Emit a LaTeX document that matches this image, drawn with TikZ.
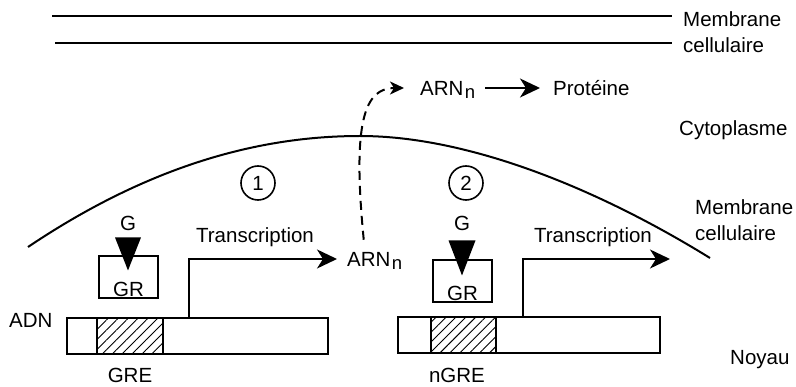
\documentclass[tikz,border=0pt]{standalone}
\usepackage{fontspec}
\setmainfont{Liberation Sans}
\usetikzlibrary{arrows.meta,patterns.meta,calc}
\tikzset{
  every node/.style={font=\fontsize{20.5}{26}\selectfont},
  lbl/.style={inner sep=0pt,anchor=west},
  mrna/.style={lbl,text depth=0pt},
  memline/.style={line width=2.4pt},
  bar/.style={draw,line width=2pt,rectangle,inner sep=0pt,minimum height=36pt},
  hatch/.style={bar,pattern={Lines[angle=45,distance=7pt,line width=0.9pt]}},
  grbox/.style={draw,line width=2pt,minimum width=59pt,minimum height=42pt,inner sep=0pt},
  ligand/.style={fill=black},
  numcirc/.style={draw,circle,line width=1.6pt,minimum size=34pt,inner sep=0pt},
  txarrow/.style={-{Stealth[length=20pt,width=19pt,inset=6pt]},line width=2pt},
  export/.style={-{Stealth[length=14pt,width=13pt,inset=4pt]},line width=2pt,dash pattern=on 9pt off 6pt},
}
\newcommand{\arnn}{ARN\kern1.5pt\raisebox{-0.3ex}{\fontsize{18.5}{20}\selectfont n}}
\begin{document}
\begin{tikzpicture}[x=1pt,y=-1pt]
  \useasboundingbox (0,0) rectangle (796,387);

  % membrane cellulaire (haut)
  \draw[memline] (52,16) -- (672,16);
  \draw[memline] (55,43) -- (672,43);
  \node[lbl,align=left] (memtop) at (683,32) {Membrane\\cellulaire};

  % cytoplasme
  \node[mrna] (arn2) at (420,88) {\arnn};
  \node[lbl] (prot) at (553,88) {Prot\'eine};
  \draw[txarrow,shorten <=10pt,shorten >=13pt] (arn2.east) -- (prot.west);
  \node[lbl] (cyto) at (679,130) {Cytoplasme};

  % membrane nucleaire
  \draw[line width=2pt] (28,247) .. controls (150,165) and (260,136) .. (360,136)
    .. controls (470,136) and (600,190) .. (710,258);
  \node[lbl,align=left] (memnuc) at (695,220) {Membrane\\cellulaire};
  \node[lbl] (noyau) at (730,360) {Noyau};

  \node[numcirc] (n1) at (258,183) {1};
  \node[numcirc] (n2) at (466,183) {2};

  % voie 1
  \node[lbl] (adn) at (9,320) {ADN};
  \node[bar,minimum width=261pt] (adn1) at (197.5,336) {};
  \node[hatch,minimum width=66pt] (gre1) at (130,336) {};
  \node[inner sep=0pt] (grelbl) at (130,375) {GRE};
  \node[grbox,label={[anchor=south,inner sep=2pt]south:GR}] (gr1) at (128.5,277) {};
  \node[inner sep=0pt] (g1) at (128,223) {G};
  \fill[ligand] ($(g1.south)+(-13,7)$) -- ++(26,0) -- ++(-13,33) -- cycle;
  \node[mrna] (arn1) at (347,259) {\arnn};
  \node[inner sep=0pt] (tx1) at (255,237) {Transcription};
  \coordinate (tss1) at (189,318);
  \draw[txarrow] (tss1) |- ($(arn1.west)+(-10,0)$);
  \draw[export] ($(arn1.north)+(-11,-12)$) .. controls (352,120) and (365,88) .. ($(arn2.west)+(-16,0)$);

  % voie 2
  \node[bar,minimum width=262pt] (adn2) at (529,335) {};
  \node[hatch,minimum width=65pt] (gre2) at (463.5,335) {};
  \node[inner sep=0pt] (ngre) at (457,375) {nGRE};
  \node[grbox,label={[anchor=south,inner sep=2pt]south:GR}] (gr2) at (462.5,281) {};
  \node[inner sep=0pt] (g2) at (462,223) {G};
  \fill[ligand] ($(g2.south)+(-13.5,10)$) -- ++(27,0) -- ++(-13.5,35) -- cycle;
  \node[inner sep=0pt] (tx2) at (593,237) {Transcription};
  \coordinate (tss2) at (523,317);
  \coordinate (txend2) at (670,259);
  \draw[txarrow] (tss2) |- (txend2);
\end{tikzpicture}
\end{document}
